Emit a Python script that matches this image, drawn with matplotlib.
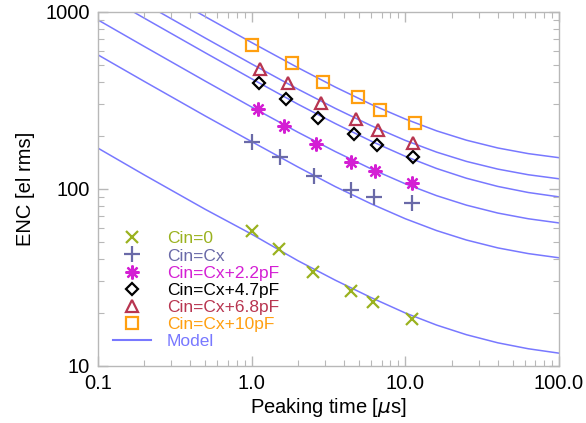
import numpy as np
import matplotlib
matplotlib.use('Agg')
import matplotlib.pyplot as plt
from matplotlib.ticker import LogLocator, NullFormatter, FixedLocator

plt.rcParams['font.family'] = ['Liberation Sans', 'DejaVu Sans']
plt.rcParams['mathtext.fontset'] = 'dejavusans'

# measured points (peaking time in us, ENC in el rms)
t_cin0 = [1.0, 1.5, 2.5, 4.4, 6.2, 11.0]
enc_cin0 = [58, 46, 34, 26.5, 23, 18.4]
t_cx = [1.0, 1.53, 2.54, 4.43, 6.25, 11.0]
enc_cx = [184, 152, 118, 99, 90, 83]
t_22 = [1.10, 1.62, 2.62, 4.43, 6.34, 11.0]
enc_22 = [283, 227, 180, 142, 126, 108]
t_47 = [1.11, 1.67, 2.70, 4.63, 6.53, 11.2]
enc_47 = [397, 322, 252, 205, 177, 152]
t_68 = [1.13, 1.72, 2.82, 4.77, 6.63, 11.2]
enc_68 = [476, 397, 306, 248, 215, 182]
t_10 = [1.0, 1.83, 2.91, 4.92, 6.84, 11.5]
enc_10 = [651, 515, 402, 331, 279, 236]

# model curves
tm = [0.1, 0.2, 0.5, 1, 2, 3.5, 6, 10, 16, 25, 40, 63, 100]
model_cin0 = (tm, [170, 120, 76.6, 55.5, 39.3, 30.5, 24.3, 19.9, 17.0,
                   15.0, 13.5, 12.5, 11.8])
model_cx = (tm, [572, 405, 258, 185, 133, 103, 82.3, 67.8, 58.1,
                 51.4, 46.4, 43.1, 40.8])
model_22 = (tm, [901, 638, 406, 290, 209, 162.5, 129.6, 106.8, 91.5,
                 80.9, 73.0, 67.8, 64.2])
model_47 = ([0.17] + tm[1:], [1000, 922, 587, 419, 301, 234, 186, 152.7,
                              130.3, 114.8, 103.2, 95.4, 90.1])
model_68 = ([0.25] + tm[2:], [1000, 711, 508, 366, 285, 227.5, 187.8,
                              161.2, 142.9, 129.3, 120.2, 114])
model_10 = ([0.44] + tm[2:], [1000, 939, 671, 484, 376, 300, 248, 212.6,
                              188.3, 170.2, 158.2, 150])

labels = ['Cin=0', 'Cin=Cx', 'Cin=Cx+2.2pF', 'Cin=Cx+4.7pF',
          'Cin=Cx+6.8pF', 'Cin=Cx+10pF', 'Model']
colors = ['#9ab21f', '#6a6aa8', '#d41fd4', 'black', '#b83550', '#ff9f10',
          '#7878ff']
xtick_vals = [0.1, 1, 10, 100]
xtick_labels = ['0.1', '1.0', '10.0', '100.0']
ytick_vals = [10, 100, 1000]
ytick_labels = ['10', '100', '1000']

fig = plt.figure(figsize=(5.86, 4.23), dpi=100)
ax = fig.add_axes([0.167, 0.135, 0.787, 0.837])

mcol = colors[-1]
for tt, ee in [model_cin0, model_cx, model_22, model_47, model_68, model_10]:
    ax.plot(tt, ee, color=mcol, lw=1.1, zorder=1)

ax.plot(t_cin0, enc_cin0, ls='none', marker='x', ms=9, mew=1.6,
        color=colors[0], label=labels[0])
ax.plot(t_cx, enc_cx, ls='none', marker='+', ms=11, mew=1.6,
        color=colors[1], label=labels[1])
ax.plot(t_22, enc_22, ls='none', marker=(8, 2, 0), ms=10, mew=1.6,
        color=colors[2], label=labels[2])
ax.plot(t_47, enc_47, ls='none', marker='D', ms=6, mew=1.6, mfc='none',
        color=colors[3], label=labels[3])
ax.plot(t_68, enc_68, ls='none', marker='^', ms=9, mew=1.6, mfc='none',
        color=colors[4], label=labels[4])
ax.plot(t_10, enc_10, ls='none', marker='s', ms=9, mew=1.6, mfc='none',
        color=colors[5], label=labels[5])
ax.plot([], [], color=mcol, lw=1.5, label=labels[6])

ax.set_xscale('log')
ax.set_yscale('log')
ax.set_xlim(0.1, 100)
ax.set_ylim(10, 1000)
ax.xaxis.set_major_locator(FixedLocator(xtick_vals))
ax.set_xticklabels(xtick_labels)
ax.yaxis.set_major_locator(FixedLocator(ytick_vals))
ax.set_yticklabels(ytick_labels)
ax.xaxis.set_minor_locator(LogLocator(base=10, subs=np.arange(2, 10)))
ax.yaxis.set_minor_locator(LogLocator(base=10, subs=np.arange(2, 10)))
ax.xaxis.set_minor_formatter(NullFormatter())
ax.yaxis.set_minor_formatter(NullFormatter())

for s in ax.spines.values():
    s.set_color('#b8b8b8')
    s.set_linewidth(1.0)
ax.tick_params(which='both', direction='in', top=True, right=True,
               color='#b8b8b8', labelsize=14.5)
ax.tick_params(which='major', length=7, width=1.0, pad=6)
ax.tick_params(which='minor', length=4, width=0.8)

ax.set_xlabel(r'Peaking time [$\mu$s]', fontsize=14.5, labelpad=2)
ax.set_ylabel('ENC [el rms]', fontsize=14.5, labelpad=7)

leg = ax.legend(loc='lower left', bbox_to_anchor=(0.033, 0.047),
                frameon=False, fontsize=12.5, handlelength=2.2,
                handletextpad=0.9, labelspacing=0.115, borderpad=0,
                borderaxespad=0)
for txt, c in zip(leg.get_texts(), colors):
    txt.set_color(c)

fig.savefig('out.png', dpi=100)
